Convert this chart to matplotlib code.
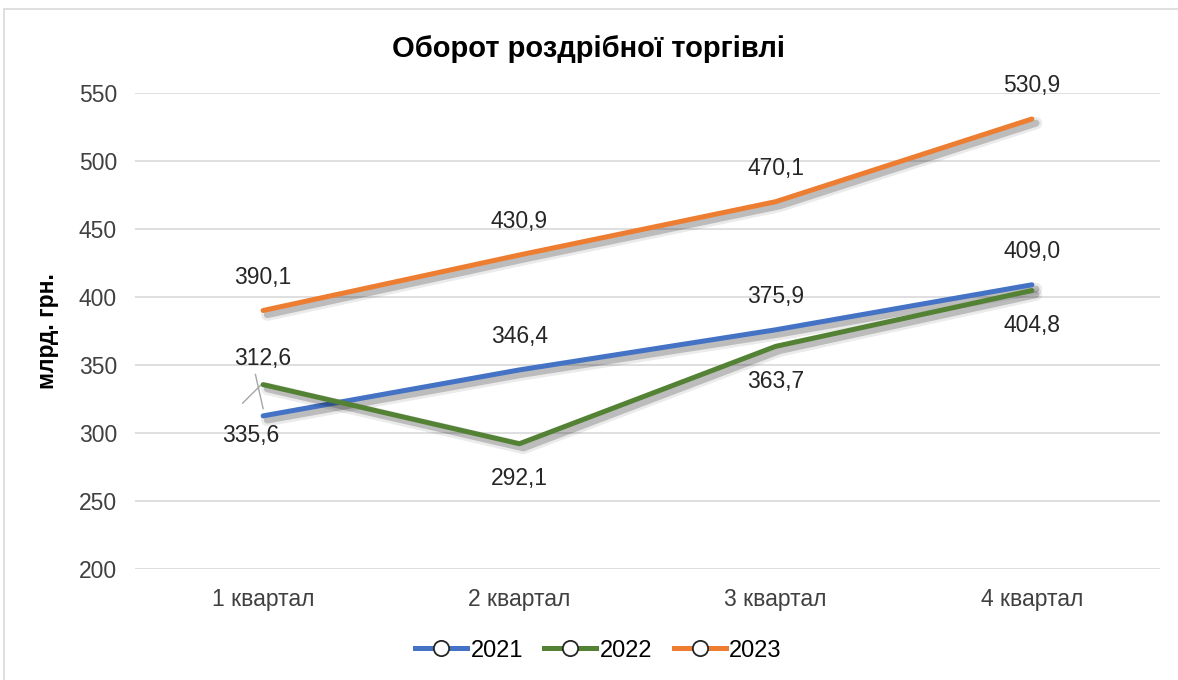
import matplotlib.pyplot as plt
import matplotlib.patheffects as pe
from matplotlib.lines import Line2D
from matplotlib.patches import Rectangle

plt.rcParams['font.family'] = ['Liberation Sans', 'DejaVu Sans']

quarters = ['1 квартал', '2 квартал', '3 квартал', '4 квартал']
years = ['2021', '2022', '2023']
values_2021 = [312.6, 346.4, 375.9, 409.0]
values_2022 = [335.6, 292.1, 363.7, 404.8]
values_2023 = [390.1, 430.9, 470.1, 530.9]
colors = ['#4472C4', '#548235', '#ED7D31']
fs = 16.5


def fmt(v):
    return '{:.1f}'.format(v).replace('.', ',')


fig = plt.figure(figsize=(11.78, 6.8), dpi=100)
ax = fig.add_axes([0.1146, 0.1632, 0.8701, 0.7000])

fig.patches.append(Rectangle((0.003, -0.02), 1.02, 1.007, transform=fig.transFigure,
                             fill=False, edgecolor='#d9d9d9', linewidth=1.2))

x = list(range(len(quarters)))
shadow = [pe.SimpleLineShadow(offset=(3, -3), shadow_color='#000000', alpha=0.08, linewidth=9),
          pe.SimpleLineShadow(offset=(3, -3), shadow_color='#000000', alpha=0.2, linewidth=5),
          pe.Normal()]

series = [values_2021, values_2022, values_2023]
for vals, col in zip(series, colors):
    ax.plot(x, vals, color=col, linewidth=3.6, solid_capstyle='round',
            path_effects=shadow, zorder=3)

# data labels
for i in range(1, 4):
    ax.annotate(fmt(values_2021[i]), (i, values_2021[i]), xytext=(0, 24),
                textcoords='offset points', ha='center', va='center', fontsize=fs, color='#262626')
    ax.annotate(fmt(values_2022[i]), (i, values_2022[i]), xytext=(0, -25),
                textcoords='offset points', ha='center', va='center', fontsize=fs, color='#262626')
for i in range(4):
    ax.annotate(fmt(values_2023[i]), (i, values_2023[i]), xytext=(0, 24),
                textcoords='offset points', ha='center', va='center', fontsize=fs, color='#262626')

# first quarter labels with leader lines
ax.annotate(fmt(values_2021[0]), (0, values_2021[0]), xytext=(0, 355),
            textcoords='data', ha='center', va='center', fontsize=fs, color='#262626')
ax.annotate(fmt(values_2022[0]), (-0.05, values_2022[0]), xytext=(-0.05, 298),
            textcoords='data', ha='center', va='center', fontsize=fs, color='#262626')
ax.plot([-0.03, 0.0], [343, 318], color='#a6a6a6', linewidth=1, zorder=2)
ax.plot([-0.08, -0.01], [322, 335], color='#a6a6a6', linewidth=1, zorder=2)

ax.set_xlim(-0.5, 3.5)
ax.set_ylim(200, 550)
ax.set_yticks(range(200, 551, 50))
ax.set_xticks(x)
ax.set_xticklabels(quarters)
ax.tick_params(axis='both', length=0, labelsize=fs, labelcolor='#404040')
ax.tick_params(axis='y', pad=13)
ax.tick_params(axis='x', pad=14)
ax.grid(axis='y', color='#d9d9d9', linewidth=1.2)
ax.set_axisbelow(True)
for s in ax.spines.values():
    s.set_visible(False)

ax.set_ylabel('млрд. грн.', fontsize=fs, fontweight='bold', color='#000000', labelpad=14)
fig.text(0.5, 0.928, 'Оборот роздрібної торгівлі', ha='center', va='center',
         fontsize=21, fontweight='bold', color='#000000')

handles = [Line2D([0], [0], color=c, linewidth=3.6, marker='o', markersize=11,
                  markerfacecolor='white', markeredgecolor='#262626', markeredgewidth=1.3)
           for c in colors]
fig.legend(handles, years, loc='center', bbox_to_anchor=(0.508, 0.043), ncol=3, frameon=False,
           fontsize=17, handlelength=2.2, handletextpad=0.15, columnspacing=0.9)

fig.savefig('out.png', dpi=100)
